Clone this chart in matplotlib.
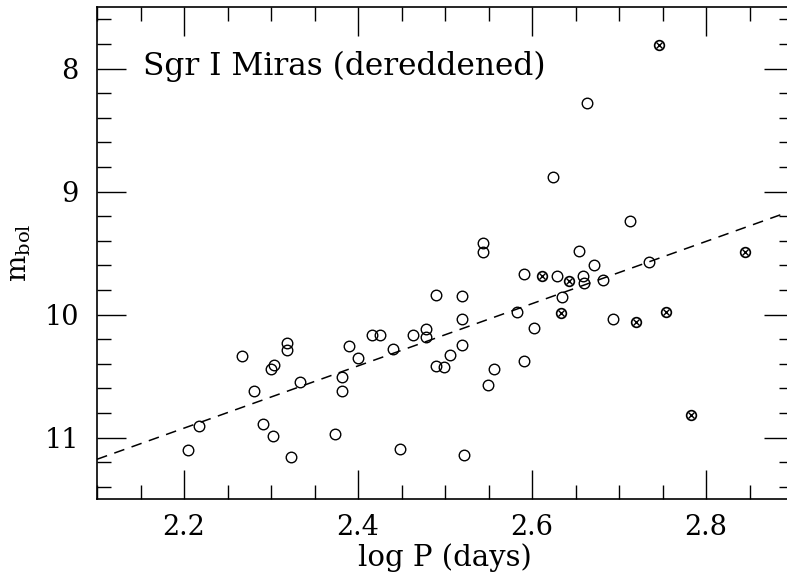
import numpy as np
import matplotlib
matplotlib.use('Agg')
import matplotlib.pyplot as plt
from matplotlib.ticker import MultipleLocator

plt.rcParams['font.family'] = ['DejaVu Serif']
plt.rcParams['mathtext.fontset'] = 'dejavuserif'
plt.rcParams['axes.unicode_minus'] = False

# open circles: log P, m_bol
logp_open = [2.205, 2.217, 2.267, 2.280, 2.291, 2.302, 2.300, 2.303, 2.318, 2.318,
             2.323, 2.333, 2.373, 2.382, 2.382, 2.390, 2.400, 2.416, 2.425, 2.440,
             2.448, 2.463, 2.478, 2.478, 2.490, 2.490, 2.499, 2.506, 2.520, 2.520,
             2.520, 2.522, 2.544, 2.544, 2.550, 2.556, 2.583, 2.591, 2.591, 2.602,
             2.624, 2.629, 2.634, 2.654, 2.659, 2.660, 2.663, 2.671, 2.682, 2.693,
             2.713, 2.734]
mbol_open = [11.10, 10.91, 10.34, 10.62, 10.89, 10.99, 10.44, 10.41, 10.23, 10.29,
             11.16, 10.55, 10.97, 10.51, 10.62, 10.26, 10.35, 10.17, 10.17, 10.28,
             11.09, 10.17, 10.12, 10.18, 9.84, 10.42, 10.43, 10.33, 9.85, 10.04,
             10.25, 11.14, 9.42, 9.49, 10.57, 10.44, 9.98, 9.67, 10.38, 10.11,
             8.88, 9.69, 9.86, 9.48, 9.69, 9.74, 8.28, 9.60, 9.72, 10.04,
             9.24, 9.57]

# crossed circles
logp_cross = [2.612, 2.633, 2.643, 2.720, 2.746, 2.754, 2.783, 2.845]
mbol_cross = [9.69, 9.99, 9.73, 10.06, 7.81, 9.98, 10.82, 9.49]

# dashed fit: m_bol = a * logP + b
fit_a = -2.53
fit_b = 16.49

fig = plt.figure(figsize=(7.87, 5.79), dpi=100)
ax = fig.add_axes([97/787, 1 - 499/579, 696/787, 492/579])

ax.plot(logp_open, mbol_open, 'o', ms=7.6, mfc='none', mec='black', mew=1.0)
ax.plot(logp_cross, mbol_cross, 'o', ms=7.0, mfc='none', mec='black', mew=1.2)
ax.plot(logp_cross, mbol_cross, 'x', ms=4.2, mec='black', mew=1.0)

xf = np.array([2.1, 2.9])
ax.plot(xf, fit_a * xf + fit_b, ls=(0, (7, 5)), color='black', lw=1.1)

ax.set_xlim(2.1, 2.9)
ax.set_ylim(11.5, 7.5)

ax.xaxis.set_major_locator(MultipleLocator(0.2))
ax.xaxis.set_minor_locator(MultipleLocator(0.05))
ax.yaxis.set_major_locator(MultipleLocator(1))
ax.yaxis.set_minor_locator(MultipleLocator(0.2))
ax.xaxis.set_major_formatter(plt.FuncFormatter(lambda v, p: '%.1f' % v))
ax.yaxis.set_major_formatter(plt.FuncFormatter(lambda v, p: '%d' % round(v)))

ax.tick_params(which='both', direction='in', top=True, right=True, width=1.0)
ax.tick_params(which='major', length=21, labelsize=19.5)
ax.tick_params(axis='x', which='major', pad=11)
ax.tick_params(axis='y', which='major', pad=13)
ax.tick_params(which='minor', length=10)
for s in ax.spines.values():
    s.set_linewidth(1.2)

ax.set_xlabel('log P (days)', fontsize=21, labelpad=1.5)
ax.set_ylabel(r'$\mathrm{m_{bol}}$', fontsize=20, labelpad=8)

ax.text(0.066, 0.862, 'Sgr I Miras (dereddened)', transform=ax.transAxes,
        fontsize=22.5, va='baseline', ha='left')

fig.savefig('out.png', dpi=100)
